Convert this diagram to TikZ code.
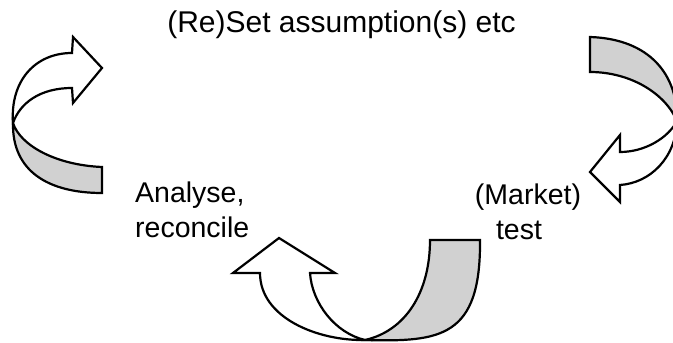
\documentclass[tikz,border=0pt]{standalone}
\usepackage{fontspec}
\setmainfont{Liberation Sans}
\begin{document}
\begin{tikzpicture}[x=1pt,y=1pt,
  band/.style={draw=black,line width=2.2pt,line join=miter},
  shadeband/.style={band,fill=black!18},
  whiteband/.style={band,fill=white},
  lbl/.style={inner sep=0pt,font=\fontsize{28.5}{34}\selectfont},
  toplbl/.style={inner sep=0pt,font=\fontsize{30}{36}\selectfont}]
\useasboundingbox (0,0) rectangle (673,343);
% left arrow
\draw[shadeband] (102,176) -- (102,150) .. controls (48,150) and (12,172) .. (13,220)
  .. controls (20,198) and (55,178) .. (102,176) -- cycle;
\draw[whiteband] (13,220) .. controls (10,262) and (35,290) .. (72,290) -- (73,306) -- (102,275)
  -- (73,240) -- (72,255) .. controls (40,255) and (20,240) .. (13,220) -- cycle;
% right arrow
\draw[shadeband] (590,306) .. controls (650,304) and (678,268) .. (677,222)
  .. controls (665,250) and (630,271) .. (590,271) -- cycle;
\draw[whiteband] (677,222) .. controls (676,185) and (650,160) .. (620,158) -- (620,141)
  -- (590,171) -- (620,208) -- (620,191) .. controls (645,191) and (668,205) .. (677,222) -- cycle;
% bottom arrow
\draw[shadeband] (480,103) .. controls (481,5) and (440,1) .. (365,3)
  .. controls (405,12) and (430,50) .. (430,103) -- cycle;
\draw[whiteband] (365,3) .. controls (318,2) and (260,25) .. (260,70) -- (233,70) -- (279,105)
  -- (335,70) -- (310,70) .. controls (312,40) and (335,10) .. (365,3) -- cycle;
% labels
\node[toplbl,anchor=base] (reset) at (341.5,310) {(Re)Set assumption(s) etc};
\node[lbl,anchor=base west] (analyse) at (135,140) {Analyse,};
\node[lbl,anchor=base west] (reconcile) at (135,105) {reconcile};
\node[lbl,anchor=base] (market) at (528,138) {(Market)};
\node[lbl,anchor=base] (test) at (519,103) {test};
\end{tikzpicture}
\end{document}
